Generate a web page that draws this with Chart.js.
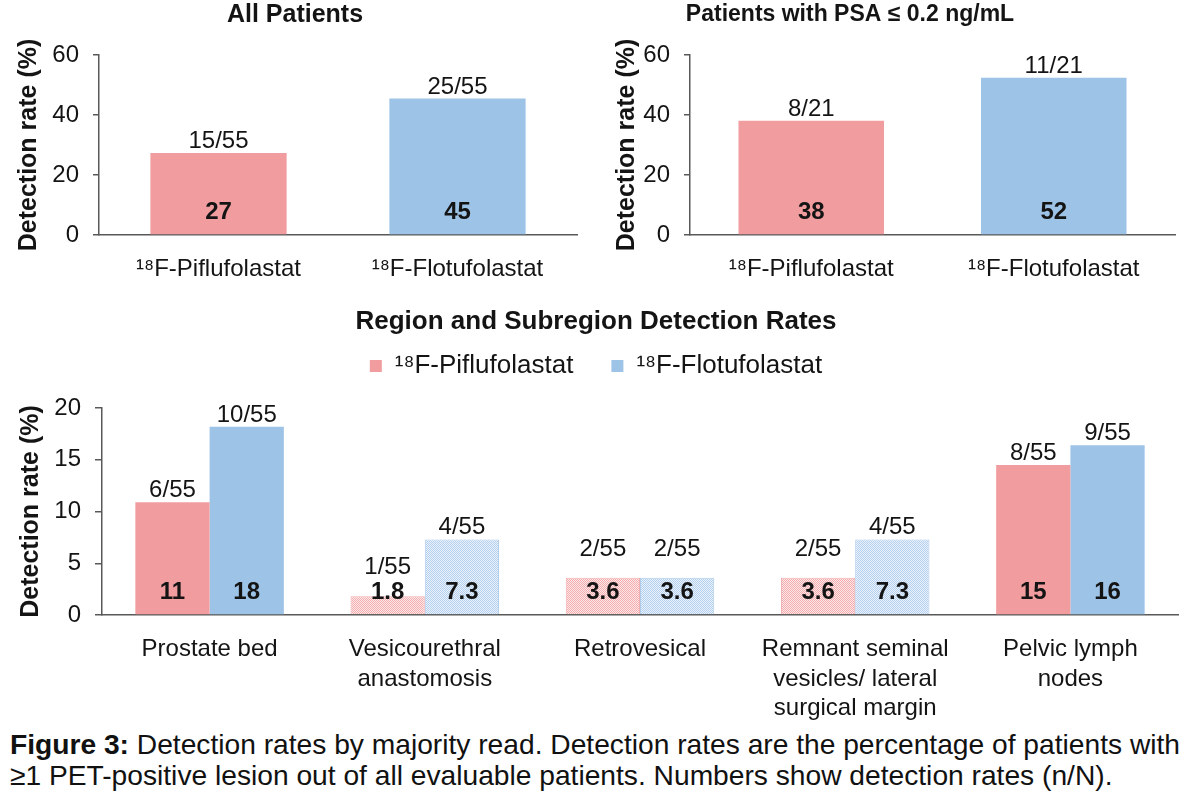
<!DOCTYPE html>
<html><head><meta charset="utf-8">
<script src="https://cdn.jsdelivr.net/npm/chart.js@4.4.1/dist/chart.umd.min.js"></script>
<style>
html,body{margin:0;padding:0;background:#fff;}
body{width:1200px;height:801px;position:relative;overflow:hidden;}
canvas{position:absolute;}
#caption{position:absolute;left:10px;top:729px;font-family:"Liberation Sans Narrow","Arial Narrow","Liberation Sans",sans-serif;font-size:28px;line-height:31px;color:#111;white-space:nowrap;transform-origin:0 0;}
#caption span{display:inline-block;}
</style></head><body>
<canvas id="c1" width="600" height="300" style="left:0;top:0"></canvas>
<canvas id="c2" width="675" height="300" style="left:525px;top:0"></canvas>
<canvas id="c3" width="1200" height="420" style="left:0;top:300px"></canvas>
<div id="caption"><span id="capLine1"><b>Figure 3:</b> Detection rates by majority read. Detection rates are the percentage of patients with</span><br><span>≥1 PET-positive lesion out of all evaluable patients. Numbers show detection rates (n/N).</span></div>
<script>
// ---- data ----
const tracerLabels = ['¹⁸F-Piflufolastat', '¹⁸F-Flotufolastat'];
const allPatientsRates = [27.3, 45.5];
const allPatientsValueLabels = ['27', '45'];
const allPatientsCounts = ['15/55', '25/55'];
const lowPsaRates = [38.1, 52.4];
const lowPsaValueLabels = ['38', '52'];
const lowPsaCounts = ['8/21', '11/21'];
const regionCategories = [['Prostate bed'], ['Vesicourethral', 'anastomosis'], ['Retrovesical'], ['Remnant seminal', 'vesicles/ lateral', 'surgical margin'], ['Pelvic lymph', 'nodes']];
const piflufolastatRegionRates = [10.9, 1.8, 3.6, 3.6, 14.5];
const piflufolastatRegionValueLabels = ['11', '1.8', '3.6', '3.6', '15'];
const piflufolastatRegionCounts = ['6/55', '1/55', '2/55', '2/55', '8/55'];
const flotufolastatRegionRates = [18.2, 7.3, 3.6, 7.3, 16.4];
const flotufolastatRegionValueLabels = ['18', '7.3', '3.6', '7.3', '16'];
const flotufolastatRegionCounts = ['10/55', '4/55', '2/55', '4/55', '9/55'];
const subregionCategory = [false, true, true, true, false];
const topTicks = {min: 0, max: 60, step: 20};
const regionTicks = {min: 0, max: 20, step: 5};

// ---- styles ----
const FONT = '"Liberation Sans", Arial, sans-serif';
const PINK = '#F19C9E';
const BLUE = '#9DC3E6';
const AXIS = '#595959';
const TEXT = '#141414';
Chart.defaults.font.family = FONT;
Chart.defaults.color = TEXT;

function makePattern(bg, fg) {
  const c = document.createElement('canvas');
  c.width = 4; c.height = 4;
  const g = c.getContext('2d');
  g.fillStyle = bg; g.fillRect(0, 0, 4, 4);
  g.fillStyle = fg;
  for (let y = 0; y < 4; y++) for (let x = 0; x < 4; x++) if ((x + y) % 2 === 0) g.fillRect(x, y, 1, 1);
  return g.createPattern(c, 'repeat');
}
const PINK_HATCH = makePattern('#FCEAEA', '#F3ABAD');
const BLUE_HATCH = makePattern('#EBF2FB', '#B3D0EE');

const barLabels = {
  id: 'barLabels',
  afterDatasetsDraw(chart) {
    const ctx = chart.ctx;
    ctx.save();
    ctx.textAlign = 'center';
    ctx.fillStyle = TEXT;
    chart.data.datasets.forEach((ds, di) => {
      const meta = chart.getDatasetMeta(di);
      meta.data.forEach((bar, i) => {
        ctx.font = 'bold 24px ' + FONT;
        ctx.textBaseline = 'middle';
        ctx.fillText(ds.valueLabels[i], bar.x, bar.base - 22);
        ctx.font = '24px ' + FONT;
        ctx.textBaseline = 'alphabetic';
        const gap = (bar.base - bar.y) < 45 ? 22 : 5;
        ctx.fillText(ds.countLabels[i], bar.x, bar.y - gap);
      });
    });
    ctx.restore();
  }
};

const legendGap = {
  id: 'legendGap',
  beforeLayout(chart, args, opts) {
    const lg = chart.legend;
    if (lg && !lg.__gapPatched) {
      const fit = lg.fit.bind(lg);
      lg.fit = function () { fit(); this.height += opts.gap || 0; };
      lg.__gapPatched = true;
    }
  }
};

function yScale(t, width, titlePad, tickLen, titleSize) {
  return {
    min: t.min, max: t.max,
    ticks: {stepSize: t.step, font: {size: 24}, color: TEXT, padding: 14},
    grid: {drawOnChartArea: false, drawTicks: true, tickLength: tickLen, color: AXIS, lineWidth: 1.5},
    border: {display: true, color: AXIS, width: 1.5},
    title: {display: true, text: 'Detection rate (%)', font: {size: titleSize, weight: 'bold'}, color: TEXT, padding: {top: titlePad, bottom: 0}},
    afterFit(s) { s.width = width; }
  };
}
function xScale(height) {
  return {
    ticks: {font: {size: 24, lineHeight: 1.23}, color: TEXT, padding: 20, maxRotation: 0, autoSkip: false},
    grid: {display: false, drawTicks: false},
    border: {display: true, color: AXIS, width: 1.5},
    afterFit(s) { s.height = height; }
  };
}

function topChart(id, title, titleSize, rates, valueLabels, counts, padLeft, yWidth, yTitlePad, padRight, barPct) {
  return new Chart(document.getElementById(id), {
    type: 'bar',
    data: {
      labels: tracerLabels,
      datasets: [{
        data: rates,
        valueLabels: valueLabels,
        countLabels: counts,
        backgroundColor: [PINK, BLUE],
        borderWidth: 0,
        barPercentage: barPct,
        categoryPercentage: 1
      }]
    },
    options: {
      responsive: false, animation: false, devicePixelRatio: 1,
      layout: {padding: {left: padLeft, right: padRight, top: 0, bottom: 0}},
      plugins: {
        legend: {display: false},
        tooltip: {enabled: false},
        title: {display: true, text: title, font: {size: titleSize, weight: 'bold', lineHeight: 1.2}, color: TEXT,
                padding: {top: 15 - titleSize * 0.6, bottom: 55 - 15 - titleSize * 0.6}}
      },
      scales: {x: xScale(65), y: yScale(topTicks, yWidth, yTitlePad, 6, 25)}
    },
    plugins: [barLabels]
  });
}

topChart('c1', 'All Patients', 25, allPatientsRates, allPatientsValueLabels, allPatientsCounts, 13, 86, 1, 23, 0.57);
topChart('c2', 'Patients with PSA ≤ 0.2 ng/mL', 23, lowPsaRates, lowPsaValueLabels, lowPsaCounts, 0, 165, 87, 25, 0.6);

function hatchable(solid, hatch) {
  return (c) => (c.dataIndex !== undefined && subregionCategory[c.dataIndex]) ? hatch : solid;
}
function hatchBorder(c) {
  return (c.dataIndex !== undefined && subregionCategory[c.dataIndex]) ? 1 : 0;
}

new Chart(document.getElementById('c3'), {
  type: 'bar',
  data: {
    labels: regionCategories,
    datasets: [{
      label: '¹⁸F-Piflufolastat',
      data: piflufolastatRegionRates,
      valueLabels: piflufolastatRegionValueLabels,
      countLabels: piflufolastatRegionCounts,
      backgroundColor: hatchable(PINK, PINK_HATCH),
      borderColor: '#F3AEB0',
      borderWidth: hatchBorder,
      barPercentage: 1, categoryPercentage: 0.69
    }, {
      label: '¹⁸F-Flotufolastat',
      data: flotufolastatRegionRates,
      valueLabels: flotufolastatRegionValueLabels,
      countLabels: flotufolastatRegionCounts,
      backgroundColor: hatchable(BLUE, BLUE_HATCH),
      borderColor: '#AFCCEA',
      borderWidth: hatchBorder,
      barPercentage: 1, categoryPercentage: 0.69
    }]
  },
  options: {
    responsive: false, animation: false, devicePixelRatio: 1,
    layout: {padding: {left: 14, right: 22, top: 0, bottom: 0}},
    plugins: {
      tooltip: {enabled: false},
      title: {display: true, text: 'Region and Subregion Detection Rates', font: {size: 26, weight: 'bold', lineHeight: 1.2}, color: TEXT, padding: {top: 6.4, bottom: -22.6}},
      legend: {
        display: true, position: 'top',
        labels: {font: {size: 26}, color: TEXT, boxWidth: 12, boxHeight: 12, padding: 38}
      },
      legendGap: {gap: 19}
    },
    scales: {x: xScale(105), y: yScale(regionTicks, 88, 2, 7, 25)}
  },
  plugins: [barLabels, legendGap]
});

// fit caption to its original line width
const cap = document.getElementById('caption');
const w1 = document.getElementById('capLine1').getBoundingClientRect().width;
cap.style.transform = 'scaleX(' + (1170 / w1) + ')';
</script>
</body></html>
